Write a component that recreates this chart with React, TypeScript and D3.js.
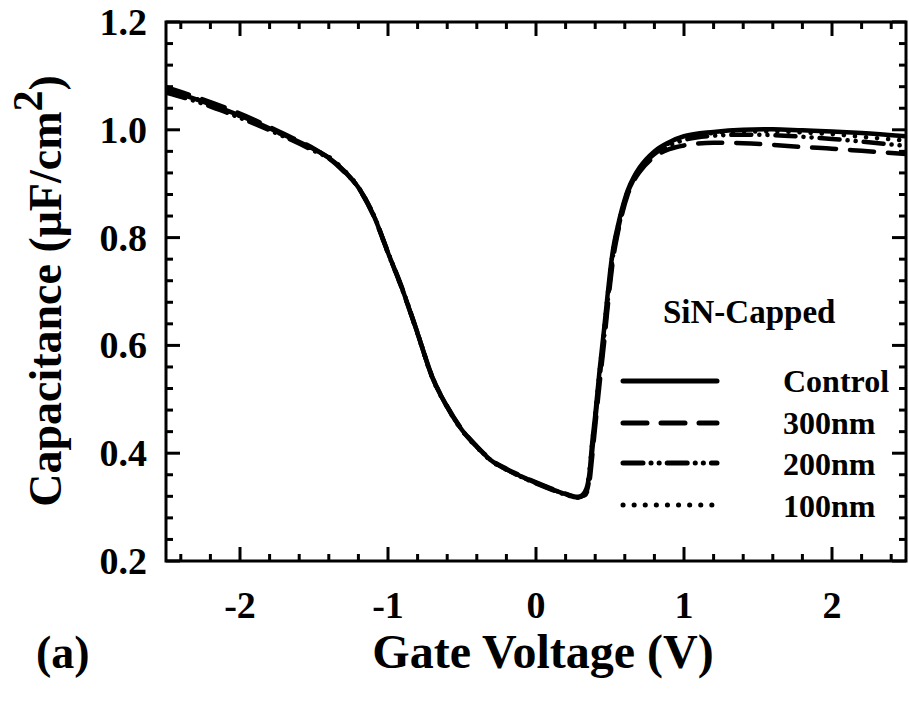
import React from "react";
import * as d3 from "d3";

const voltage = [-2.5,-2.3,-2.1,-1.9,-1.7,-1.5,-1.4,-1.3,-1.2,-1.1,-1.0,-0.9,-0.8,-0.7,-0.6,-0.5,-0.4,-0.3,-0.2,-0.1,0.0,0.1,0.2,0.28,0.33,0.36,0.38,0.40,0.43,0.46,0.48,0.50,0.52,0.55,0.58,0.62,0.66,0.70,0.8,0.9,1.0,1.2,1.4,1.6,1.8,2.0,2.2,2.5];

const control = [1.074,1.057,1.037,1.015,0.990,0.964,0.948,0.925,0.893,0.843,0.772,0.702,0.622,0.540,0.486,0.443,0.412,0.386,0.370,0.357,0.345,0.334,0.324,0.318,0.328,0.360,0.420,0.470,0.555,0.630,0.684,0.735,0.777,0.818,0.852,0.888,0.912,0.930,0.960,0.977,0.988,0.996,1.000,1.001,0.999,0.997,0.994,0.988];
const nm300 = [1.079,1.061,1.041,1.018,0.992,0.965,0.948,0.924,0.892,0.842,0.772,0.701,0.622,0.541,0.487,0.444,0.413,0.387,0.371,0.358,0.346,0.335,0.325,0.319,0.322,0.345,0.395,0.450,0.530,0.605,0.660,0.712,0.758,0.805,0.842,0.880,0.905,0.922,0.950,0.964,0.971,0.976,0.975,0.972,0.968,0.965,0.961,0.955];
const nm200 = [1.069,1.053,1.033,1.011,0.987,0.961,0.947,0.923,0.893,0.844,0.773,0.703,0.623,0.541,0.486,0.443,0.412,0.386,0.370,0.356,0.344,0.333,0.323,0.318,0.323,0.352,0.405,0.460,0.540,0.615,0.670,0.722,0.766,0.810,0.846,0.884,0.908,0.926,0.955,0.971,0.981,0.989,0.991,0.990,0.987,0.983,0.978,0.970];
const nm100 = [1.076,1.058,1.036,1.014,0.989,0.963,0.950,0.926,0.894,0.843,0.771,0.701,0.621,0.539,0.485,0.442,0.411,0.385,0.369,0.356,0.345,0.334,0.324,0.318,0.326,0.365,0.420,0.472,0.553,0.628,0.682,0.733,0.775,0.816,0.850,0.886,0.910,0.928,0.958,0.975,0.986,0.994,0.997,0.997,0.995,0.992,0.987,0.980];

const seriesNames = ["Control", "300nm", "200nm", "100nm"];
const seriesValues = [control, nm300, nm200, nm100];
const dashes = ["none", "24,14", "20,8,0.1,8,0.1,8", "0.1,11"];

const xMajor = [-2, -1, 0, 1, 2];
const xMajorLabels = ["-2", "-1", "0", "1", "2"];
const yMajor = [0.2, 0.4, 0.6, 0.8, 1.0, 1.2];
const yMajorLabels = ["0.2", "0.4", "0.6", "0.8", "1.0", "1.2"];

const FONT = "'Liberation Serif', 'Times New Roman', serif";

export default function App() {
  const W = 909, H = 702;
  const x = d3.scaleLinear().domain([-2.5, 2.5]).range([166, 906]);
  const y = d3.scaleLinear().domain([0.2, 1.2]).range([561, 22]);
  const [x0, x1] = x.range();
  const [y0, y1] = y.range();

  const xMinor = d3.range(-24, 25, 2).map((d) => d / 10).filter((d) => Math.abs(d - Math.round(d)) > 1e-6);
  const yMinor = d3.range(5, 31, 1).map((d) => d * 0.04).filter((d) => d > 0.2 + 1e-6 && d < 1.2 - 1e-6 && Math.abs(d * 5 - Math.round(d * 5)) > 1e-6);

  const line = d3.line<number>()
    .x((_, i) => x(voltage[i]))
    .y((d) => y(d))
    .curve(d3.curveMonotoneX);

  const MAJ = 14, MIN = 7;
  const legendX0 = 623, legendX1 = 717;
  const legendY = [381, 423, 463, 505];
  const legendTextY = [392, 434, 475, 517];

  return (
    <svg width={W} height={H} style={{ position: "absolute", left: 0, top: 0, background: "#fff" }} fontFamily={FONT} fontWeight="bold">
      <defs>
        <clipPath id="plot">
          <rect x={x0} y={y1} width={x1 - x0} height={y0 - y1} />
        </clipPath>
      </defs>
      <g clipPath="url(#plot)">
        {seriesValues.map((vals, i) => (
          <path key={i} d={line(vals) || ""} fill="none" stroke="#000" strokeWidth={4.5}
            strokeDasharray={dashes[i]} strokeLinecap="round" strokeLinejoin="round" />
        ))}
      </g>
      {/* ticks */}
      <g stroke="#000" strokeWidth={3}>
        {xMajor.map((v) => (
          <g key={"xm" + v}>
            <line x1={x(v)} x2={x(v)} y1={y0} y2={y0 - MAJ} />
            <line x1={x(v)} x2={x(v)} y1={y1} y2={y1 + MAJ} />
          </g>
        ))}
        {xMinor.map((v) => (
          <g key={"xn" + v}>
            <line x1={x(v)} x2={x(v)} y1={y0} y2={y0 - MIN} />
            <line x1={x(v)} x2={x(v)} y1={y1} y2={y1 + MIN} />
          </g>
        ))}
        {yMajor.map((v) => (
          <g key={"ym" + v}>
            <line x1={x0} x2={x0 + MAJ} y1={y(v)} y2={y(v)} />
            <line x1={x1} x2={x1 - MAJ} y1={y(v)} y2={y(v)} />
          </g>
        ))}
        {yMinor.map((v) => (
          <g key={"yn" + v}>
            <line x1={x0} x2={x0 + MIN} y1={y(v)} y2={y(v)} />
            <line x1={x1} x2={x1 - MIN} y1={y(v)} y2={y(v)} />
          </g>
        ))}
      </g>
      <rect x={x0} y={y1} width={x1 - x0} height={y0 - y1} fill="none" stroke="#000" strokeWidth={3} />
      {/* tick labels */}
      <g fontSize={38} fill="#000">
        {xMajor.map((v, i) => (
          <text key={"xl" + v} x={x(v)} y={618} textAnchor="middle">{xMajorLabels[i]}</text>
        ))}
        {yMajor.map((v, i) => (
          <text key={"yl" + v} x={147} y={y(v) + 13} textAnchor="end">{yMajorLabels[i]}</text>
        ))}
      </g>
      {/* axis titles */}
      <text x={543} y={668} textAnchor="middle" fontSize={48}>Gate Voltage (V)</text>
      <text x={36} y={668} fontSize={46}>(a)</text>
      <text transform={`translate(61,${291}) rotate(-90)`} textAnchor="middle" fontSize={46}>
        Capacitance (μF/cm<tspan fontSize={42} dy={-19}>2</tspan><tspan dy={19}>)</tspan>
      </text>
      {/* legend */}
      <text x={663} y={323} fontSize={33}>SiN-Capped</text>
      {seriesNames.map((n, i) => (
        <g key={n}>
          <line x1={legendX0} x2={legendX1} y1={legendY[i]} y2={legendY[i]} stroke="#000" strokeWidth={5}
            strokeDasharray={dashes[i]} strokeLinecap="round" />
          <text x={783} y={legendTextY[i]} fontSize={32}>{n}</text>
        </g>
      ))}
    </svg>
  );
}
